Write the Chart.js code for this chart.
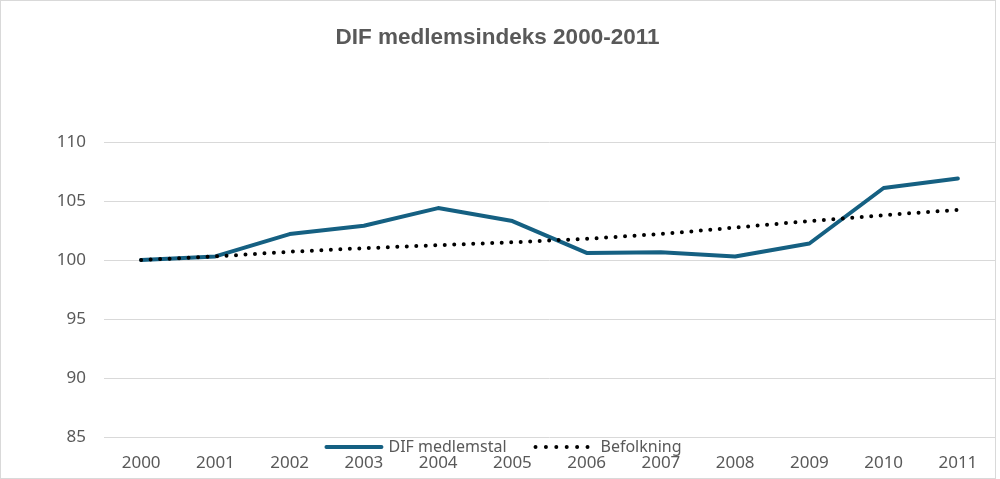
<!DOCTYPE html>
<html>
<head>
<meta charset="utf-8">
<script src="https://cdn.jsdelivr.net/npm/chart.js@4"></script>
<style>
  html, body { margin: 0; padding: 0; background: #ffffff; }
  #wrap { width: 1000px; height: 479px; position: relative; }
  canvas { display: block; }
</style>
</head>
<body>
<div id="wrap"><canvas id="c" width="1000" height="479"></canvas></div>
<script>
const titleText = 'DIF medlemsindeks 2000-2011';
const years = ['2000','2001','2002','2003','2004','2005','2006','2007','2008','2009','2010','2011'];
const difValues = [100, 100.3, 102.2, 102.9, 104.4, 103.3, 100.6, 100.65, 100.3, 101.4, 106.1, 106.9];
const befolkningValues = [100, 100.3, 100.7, 101.0, 101.25, 101.5, 101.8, 102.2, 102.75, 103.3, 103.8, 104.25];
const seriesNames = ['DIF medlemstal', 'Befolkning'];
const yMin = 85, yMax = 110, yStep = 5;

const textColor = '#595959';
const gridColor = '#d9d9d9';
const difColor = '#156082';
const befColor = '#000000';
const tickFont = { family: "'Noto Sans', sans-serif", size: 17 };
const legendFontCss = "16px 'Noto Sans', sans-serif";

const framePlugin = {
  id: 'frame',
  afterDraw(chart) {
    const ctx = chart.ctx;
    ctx.save();
    ctx.strokeStyle = gridColor;
    ctx.lineWidth = 1;
    ctx.strokeRect(0.5, 0.5, chart.width - 5, chart.height - 1);
    ctx.restore();
  }
};

const customLegend = {
  id: 'customLegend',
  afterDraw(chart) {
    const ctx = chart.ctx;
    const area = chart.chartArea;
    const y = area.bottom + 10;
    ctx.save();
    ctx.font = legendFontCss;
    const w1 = ctx.measureText(seriesNames[0]).width;
    const w2 = ctx.measureText(seriesNames[1]).width;
    const sample1 = 59, sample2 = 52, gapText1 = 5, gapItems = 29, gapText2 = 13;
    const total = sample1 + gapText1 + w1 + gapItems + sample2 + gapText2 + w2;
    let x = chart.width / 2 - total / 2 + 3;
    // item 1
    ctx.strokeStyle = difColor;
    ctx.lineWidth = 4;
    ctx.lineCap = 'round';
    ctx.beginPath();
    ctx.moveTo(x + 2, y);
    ctx.lineTo(x + sample1 - 2, y);
    ctx.stroke();
    x += sample1 + gapText1;
    ctx.fillStyle = textColor;
    ctx.textBaseline = 'middle';
    ctx.textAlign = 'left';
    ctx.fillText(seriesNames[0], x, y);
    x += w1 + gapItems;
    // item 2
    ctx.strokeStyle = befColor;
    ctx.lineWidth = 4;
    ctx.setLineDash([0, 10.4]);
    ctx.beginPath();
    ctx.moveTo(x, y);
    ctx.lineTo(x + sample2 + 1, y);
    ctx.stroke();
    ctx.setLineDash([]);
    x += sample2 + gapText2;
    ctx.fillText(seriesNames[1], x, y);
    ctx.restore();
  }
};

new Chart(document.getElementById('c'), {
  type: 'line',
  data: {
    labels: years,
    datasets: [
      {
        label: seriesNames[0],
        data: difValues,
        borderColor: difColor,
        backgroundColor: difColor,
        borderWidth: 4,
        borderCapStyle: 'round',
        borderJoinStyle: 'round',
        pointRadius: 0,
        tension: 0,
        fill: false,
        order: 1
      },
      {
        label: seriesNames[1],
        data: befolkningValues,
        borderColor: befColor,
        backgroundColor: befColor,
        borderWidth: 4,
        borderDash: [0, 9.5],
        borderCapStyle: 'round',
        pointRadius: 0,
        tension: 0,
        fill: false,
        order: 0
      }
    ]
  },
  options: {
    responsive: false,
    animation: false,
    devicePixelRatio: 1,
    layout: { padding: { top: 0, left: 0, right: 5, bottom: 5.6 } },
    plugins: {
      legend: { display: false },
      tooltip: { enabled: false },
      title: {
        display: true,
        text: titleText,
        color: textColor,
        font: { family: "'Liberation Sans', Arial, sans-serif", size: 22.5, weight: 'bold', lineHeight: 1.2 },
        padding: { top: 24.5, bottom: 90.5 }
      }
    },
    scales: {
      x: {
        offset: true,
        afterFit(scale) { scale.height = 36.4; },
        grid: { display: false, drawTicks: false },
        border: { display: false },
        ticks: { color: textColor, font: tickFont, padding: 16, maxRotation: 0, autoSkip: false }
      },
      y: {
        min: yMin,
        max: yMax,
        afterFit(scale) { scale.width = 104; },
        grid: { color: gridColor, lineWidth: 1, drawTicks: false },
        border: { display: false },
        ticks: { stepSize: yStep, color: textColor, font: tickFont, padding: 18 }
      }
    }
  },
  plugins: [customLegend, framePlugin]
});
</script>
</body>
</html>
